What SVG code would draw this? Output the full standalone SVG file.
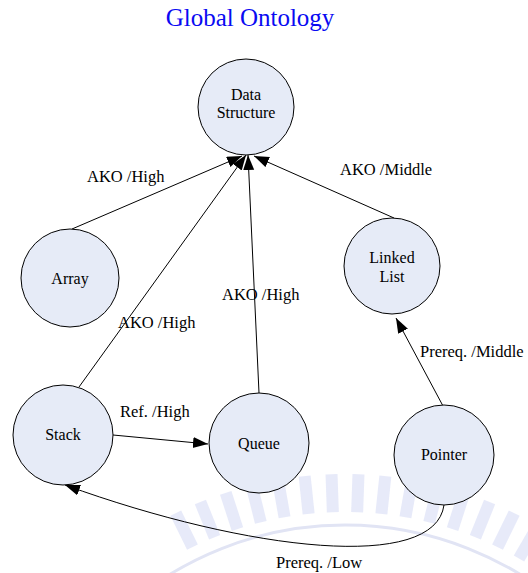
<svg xmlns="http://www.w3.org/2000/svg" xmlns:xlink="http://www.w3.org/1999/xlink" width="528" height="573" viewBox="0 0 528 573">
  <style>
    .node circle { fill: #e6ebf7; stroke: #000; stroke-width: 1; }
    .node text { font-family: "Liberation Serif", "Times New Roman", serif; font-size: 16px; fill: #000; text-anchor: middle; }
    .edge { fill: none; stroke: #000; stroke-width: 1; marker-end: url(#arrow); }
    .label { font-family: "Liberation Serif", "Times New Roman", serif; font-size: 16.5px; fill: #000; }
    .title { font-family: "Liberation Serif", "Times New Roman", serif; font-size: 25px; fill: #0a0af2; text-anchor: middle; }
    .bar { fill: #c9d0f2; opacity: 0.45; }
  </style>
  <defs>
    <marker id="arrow" markerUnits="userSpaceOnUse" markerWidth="16" markerHeight="12" refX="15" refY="5.5" orient="auto">
      <path d="M0,0 L15,5.5 L0,11 Z" fill="#000"/>
    </marker>
    <rect id="bar" class="bar" x="339" y="474" width="12" height="38"/>
  </defs>

  <rect width="528" height="573" fill="#fff"/>

  <!-- faint emblem in the lower part -->
  <g id="emblem">
    <circle cx="345" cy="860" r="335" fill="none" stroke="#e1e4f4" stroke-width="3"/>
    <use xlink:href="#bar" transform="rotate(-26 345 860)"/>
    <use xlink:href="#bar" transform="rotate(-22 345 860)"/>
    <use xlink:href="#bar" transform="rotate(-18 345 860)"/>
    <use xlink:href="#bar" transform="rotate(-14 345 860)"/>
    <use xlink:href="#bar" transform="rotate(-10 345 860)"/>
    <use xlink:href="#bar" transform="rotate(-6 345 860)"/>
    <use xlink:href="#bar" transform="rotate(-2 345 860)"/>
    <use xlink:href="#bar" transform="rotate(2 345 860)"/>
    <use xlink:href="#bar" transform="rotate(6 345 860)"/>
    <use xlink:href="#bar" transform="rotate(10 345 860)"/>
    <use xlink:href="#bar" transform="rotate(14 345 860)"/>
    <use xlink:href="#bar" transform="rotate(18 345 860)"/>
    <use xlink:href="#bar" transform="rotate(22 345 860)"/>
    <use xlink:href="#bar" transform="rotate(26 345 860)"/>
    <use xlink:href="#bar" transform="rotate(30 345 860)"/>
  </g>

  <text class="title" x="250" y="26">Global Ontology</text>

  <!-- connectors -->
  <g id="connectors">
    <line class="edge" x1="72" y1="229" x2="242" y2="156"/>
    <line class="edge" x1="79" y1="387" x2="246" y2="155"/>
    <line class="edge" x1="259" y1="393" x2="248" y2="155"/>
    <line class="edge" x1="394" y1="218" x2="254" y2="156"/>
    <line class="edge" x1="443" y1="406" x2="396" y2="318"/>
    <line class="edge" x1="113" y1="435" x2="208" y2="444"/>
    <path class="edge" d="M444,505 C435,572 250,552 65,485"/>
    <text class="label" x="87" y="182">AKO /High</text>
    <text class="label" x="340" y="175">AKO /Middle</text>
    <text class="label" x="222" y="300">AKO /High</text>
    <text class="label" x="118" y="328">AKO /High</text>
    <text class="label" x="420" y="357">Prereq. /Middle</text>
    <text class="label" x="120" y="417">Ref. /High</text>
    <text class="label" x="276" y="568">Prereq. /Low</text>
  </g>

  <!-- nodes -->
  <g id="data-structure" class="node">
    <circle cx="246" cy="107" r="48"/>
    <text x="246" y="100">Data</text>
    <text x="246" y="118">Structure</text>
  </g>
  <g id="array" class="node">
    <circle cx="70" cy="278" r="49"/>
    <text x="70" y="284">Array</text>
  </g>
  <g id="linked-list" class="node">
    <circle cx="392" cy="266" r="48"/>
    <text x="392" y="263">Linked</text>
    <text x="392" y="282">List</text>
  </g>
  <g id="stack" class="node">
    <circle cx="63" cy="435" r="50"/>
    <text x="63" y="440">Stack</text>
  </g>
  <g id="queue" class="node">
    <circle cx="259" cy="443" r="50"/>
    <text x="259" y="449">Queue</text>
  </g>
  <g id="pointer" class="node">
    <circle cx="444" cy="455" r="50"/>
    <text x="444" y="460">Pointer</text>
  </g>
</svg>
